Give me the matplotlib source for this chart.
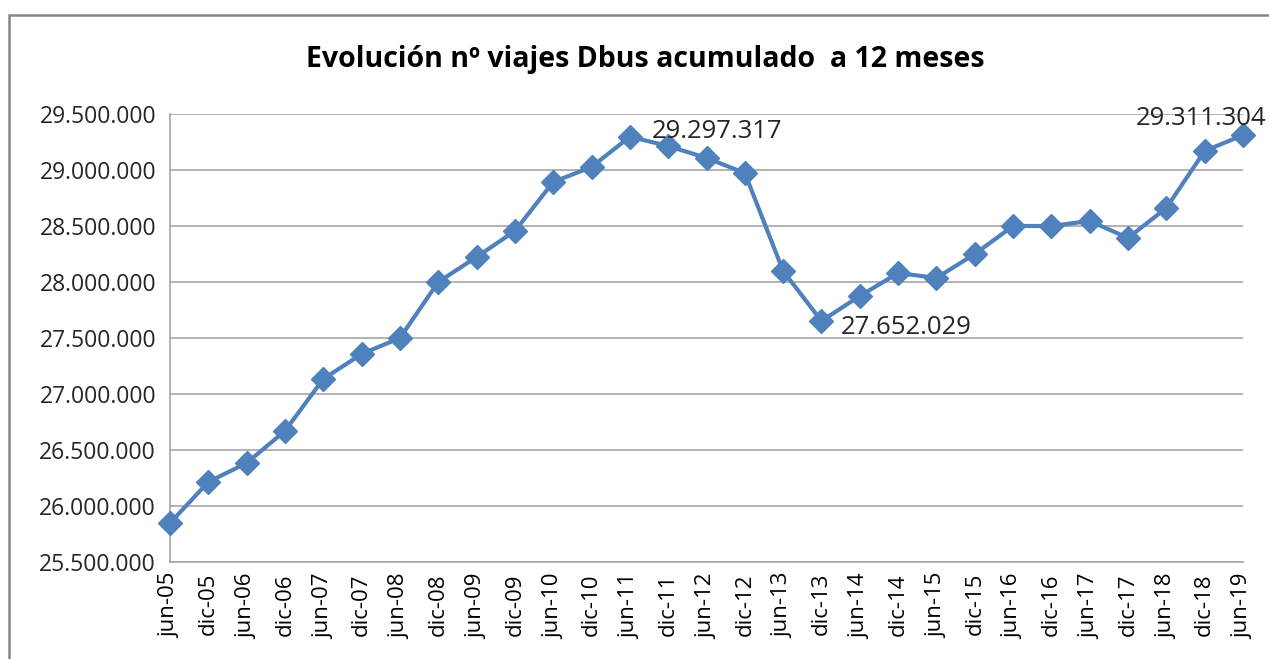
import matplotlib
matplotlib.use("Agg")
import matplotlib.pyplot as plt
from matplotlib.patches import Rectangle
from matplotlib.ticker import FuncFormatter

labels = ["jun-05", "dic-05", "jun-06", "dic-06", "jun-07", "dic-07", "jun-08",
          "dic-08", "jun-09", "dic-09", "jun-10", "dic-10", "jun-11", "dic-11",
          "jun-12", "dic-12", "jun-13", "dic-13", "jun-14", "dic-14", "jun-15",
          "dic-15", "jun-16", "dic-16", "jun-17", "dic-17", "jun-18", "dic-18",
          "jun-19"]
viajes = [25848000, 26214000, 26384000, 26670000, 27134000, 27357000, 27500000,
          28000000, 28223000, 28455000, 28893000, 29027000, 29297317, 29214000,
          29107000, 28973000, 28098000, 27652029, 27875000, 28080000, 28036000,
          28250000, 28500000, 28500000, 28545000, 28393000, 28661000, 29170000,
          29311304]
y_ticks = [25500000, 26000000, 26500000, 27000000, 27500000, 28000000,
           28500000, 29000000, 29500000]

plt.rcParams["font.family"] = ["Open Sans", "DejaVu Sans"]

fig = plt.figure(figsize=(12.69, 6.59), dpi=100)
ax = fig.add_axes([170 / 1269, 1 - 562 / 659, (1243 - 170) / 1269, (562 - 114) / 659])

x = list(range(len(labels)))
ax.plot(x, viajes, color="#4F81BD", lw=3, marker="D", markersize=12.5,
        markerfacecolor="#4F81BD", markeredgecolor="#4F81BD", zorder=3, clip_on=False)

ax.set_xlim(0, len(labels) - 1)
ax.set_ylim(y_ticks[0], y_ticks[-1])
ax.set_yticks(y_ticks)
ax.yaxis.set_major_formatter(FuncFormatter(lambda v, p: f"{int(v):,}".replace(",", ".")))
ax.set_xticks(x)
ax.set_xticklabels(labels, rotation=90, fontsize=16)
ax.tick_params(axis="y", labelsize=16.5, length=0, pad=10, colors="#262626")
ax.tick_params(axis="x", length=0, pad=8, colors="#000000")
ax.grid(axis="y", color="#A6A6A6", lw=1.2)
ax.set_axisbelow(True)
for s in ["top", "right"]:
    ax.spines[s].set_visible(False)
for s in ["left", "bottom"]:
    ax.spines[s].set_color("#A6A6A6")
    ax.spines[s].set_linewidth(1.2)

# data labels
i_max = 12
i_min = 17
i_last = len(viajes) - 1
fmt = lambda v: f"{v:,}".replace(",", ".")
ax.annotate(fmt(viajes[i_max]), (x[i_max], viajes[i_max]), xytext=(16, 4),
            textcoords="offset points", fontsize=18.5, va="center", ha="left", color="#262626")
ax.annotate(fmt(viajes[i_min]), (x[i_min], viajes[i_min]), xytext=(14, -5),
            textcoords="offset points", fontsize=18.5, va="center", ha="left", color="#262626")
ax.annotate(fmt(viajes[i_last]), (x[i_last], viajes[i_last]), xytext=(17, 12),
            textcoords="offset points", fontsize=18.5, va="center", ha="right",
            color="#262626", annotation_clip=False)

fig.text(645 / 1269, 1 - 60 / 659, "Evolución nº viajes Dbus acumulado  a 12 meses",
         ha="center", va="center", fontsize=20.5, fontweight="bold")

fig.patches.append(Rectangle((9 / 1269, -0.05), 1.1, 1 - 15 / 659 + 0.05,
                             transform=fig.transFigure, fill=False,
                             edgecolor="#868686", lw=1.8))

fig.savefig("out.png", dpi=100)
